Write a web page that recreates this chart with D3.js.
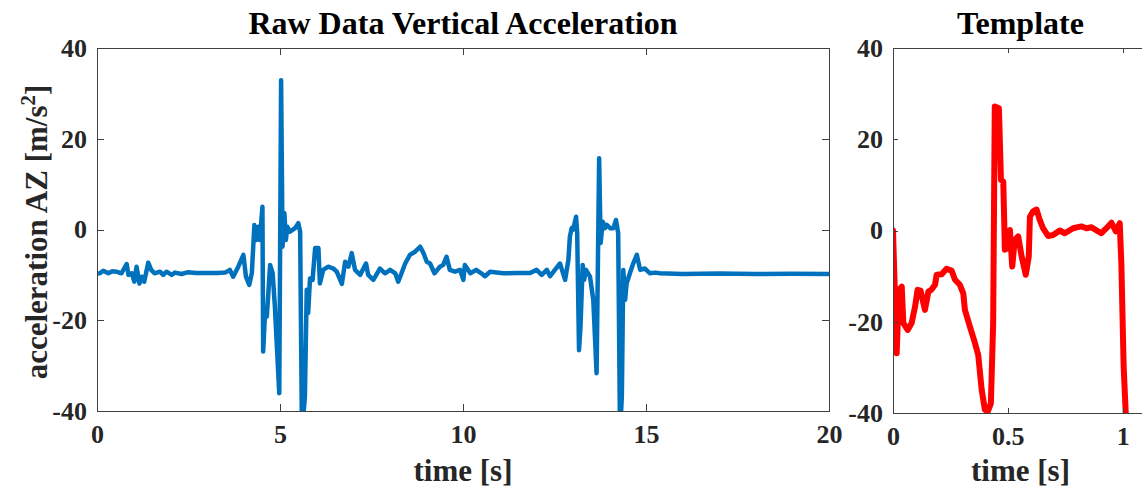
<!DOCTYPE html>
<html>
<head>
<meta charset="utf-8">
<script src="https://cdn.jsdelivr.net/npm/d3@7"></script>
<title>Raw Data Vertical Acceleration</title>
<style>
    body { margin: 0; background: #fff; }
    svg text { font-family: "Liberation Serif", "Times New Roman", serif; font-weight: bold; fill: #262626; }
    .axis path, .axis line { stroke: #404040; stroke-width: 1; shape-rendering: crispEdges; }
    .axis text { font-size: 26px; }
</style>
</head>
<body>
<div id="chart"></div>
<script>

// raw accelerometer trace (seconds, m/s^2)
var rawTime = [0.00, 0.08, 0.17, 0.31, 0.42, 0.53, 0.67, 0.81, 0.86, 0.95, 1.02, 1.08, 1.16, 1.22, 1.29, 1.40, 1.48, 1.57,
    1.72, 1.81, 1.90, 2.04, 2.13, 2.31, 2.49, 2.70, 3.00, 3.30, 3.50, 3.63, 3.72, 3.86, 4.00, 4.07, 4.16, 4.23, 4.30,
    4.36, 4.41, 4.45, 4.52, 4.54, 4.59, 4.64, 4.73, 4.80, 4.86, 4.98, 5.03, 5.07, 5.12, 5.16, 5.20, 5.27, 5.41, 5.50,
    5.55, 5.60, 5.68, 5.73, 5.77, 5.82, 5.89, 5.96, 6.05, 6.09, 6.18, 6.32, 6.46, 6.55, 6.69, 6.78, 6.87, 6.96, 7.05,
    7.19, 7.35, 7.41, 7.55, 7.73, 7.87, 8.01, 8.15, 8.23, 8.32, 8.42, 8.55, 8.69, 8.83, 8.92, 9.01, 9.10, 9.22, 9.37,
    9.46, 9.55, 9.64, 9.78, 9.92, 10.01, 10.05, 10.20, 10.36, 10.50, 10.60, 10.74, 11.10, 11.47, 11.83, 12.01, 12.15,
    12.29, 12.38, 12.51, 12.65, 12.79, 12.88, 12.92, 12.97, 13.01, 13.09, 13.12, 13.17, 13.21, 13.27, 13.31, 13.36,
    13.47, 13.56, 13.65, 13.72, 13.76, 13.82, 13.88, 13.93, 14.02, 14.11, 14.18, 14.24, 14.29, 14.34, 14.38, 14.43,
    14.47, 14.56, 14.65, 14.75, 14.84, 14.97, 15.11, 15.25, 15.38, 16.0, 17.0, 18.0, 19.0, 20.0];
var rawAccel = [-9.7, -9.65, -9.1, -9.65, -9.2, -9.3, -9.65, -7.6, -10.0, -9.65, -11.5, -8.2, -11.9, -10.4, -11.5, -7.3, -8.9, -9.65,
    -9.3, -10.0, -9.3, -10.0, -9.5, -9.8, -9.4, -9.6, -9.6, -9.6, -9.5, -8.9, -10.4, -8.2, -5.6, -10.4, -12.2, -9.65, 1.0,
    -2.3, 0.6, -2.3, 5.0, -26.9, -18.5, -19.2, -7.8, -9.65, -17, -36.1, 32.9, -3.8, 3.6, -2.3, 0.6, -0.5, 0.3, 1.4,
    -0.5, -45, -36.8, -13.3, -18.4, -10.8, -11.1, -4.1, -4.1, -11.9, -8.9, -8.2, -8.6, -9.3, -12.0, -7.1, -8.2, -5.2, -8.9,
    -10.0, -7.5, -10.0, -11.1, -8.6, -9.65, -8.9, -9.65, -11.5, -9.65, -7.5, -5.6, -4.9, -3.8, -5.2, -7.1, -7.5, -9.65, -8.2,
    -7.8, -6.0, -8.9, -9.3, -8.9, -11.1, -7.8, -9.65, -8.9, -9.65, -10.3, -9.3, -9.65, -9.6, -9.6, -8.9, -10.0,
    -8.9, -10.3, -8.9, -7.5, -11.1, -6.7, -1.6, 0.3, 0, 2.8, -0.8, -26.6, -21.4, -7.8, -11.1, -8.9,
    -10.4, -15.5, -31.7, 15.7, -3.0, 1.7, 0.3, 1.0, 0.3, 0.3, 2.1, -0.8, -45, -36.8, -8.9, -15.5,
    -11.9, -9.65, -7.5, -5.6, -8.9, -8.6, -9.65, -9.5, -9.65, -9.8, -9.7, -9.8, -9.75, -9.8];

// template signal (normalised time, m/s^2)
var tplTime = [0.000, 0.016, 0.026, 0.038, 0.045, 0.064, 0.081, 0.096, 0.107, 0.120, 0.139, 0.154, 0.167, 0.183, 0.190,
    0.212, 0.233, 0.255, 0.270, 0.291, 0.306, 0.313, 0.335, 0.357, 0.371, 0.386, 0.400, 0.414, 0.426, 0.436, 0.443,
    0.461, 0.470, 0.480, 0.487, 0.499, 0.509, 0.519, 0.530, 0.545, 0.560, 0.578, 0.591, 0.596, 0.610, 0.625, 0.639,
    0.653, 0.675, 0.697, 0.726, 0.748, 0.784, 0.820, 0.842, 0.864, 0.907, 0.929, 0.951, 0.970, 0.987, 0.994, 1.004,
    1.013, 1.020];
var tplAccel = [0, -26.9, -13, -12.3, -20.3, -21.8, -20.3, -16.7, -13, -13.2, -17.4, -13.4, -13, -11.9, -9.7,
    -9.6, -8.4, -8.8, -10.8, -11.9, -13.8, -17.4, -21.1, -24.7, -27.3, -34.9, -39.3, -39.5, -37.9, -20.3, 27.2,
    26.8, 11.1, 10.7, -4.2, -3.9, 0.1, -7.9, -2.1, -1.3, -5.7, -9.7, -5.7, 3.0, 4.2, 4.6, 2.3,
    0.5, -1.2, -1.0, 0, -0.6, 0.5, 0.9, 0.5, 0.7, -0.6, 0.5, 1.7, -0.2, 1.6, -7.2, -29.8,
    -40, -46];

var yTicks = [-40, -20, 0, 20, 40];
var rawXTicks = [0, 5, 10, 15, 20];
var tplXTicks = [0, 0.5, 1];

var width = 1142, height = 489;

var svg = d3.select("#chart").append("svg")
    .attr("width", width)
    .attr("height", height);

function drawPanel(opts) {
    var x = d3.scaleLinear().domain(opts.xDomain).range([opts.left, opts.right]);
    var y = d3.scaleLinear().domain([-40, 40]).range([opts.bottom, opts.top]);
    var g = svg.append("g");

    g.append("clipPath").attr("id", opts.id + "Clip")
        .append("rect")
        .attr("x", opts.left).attr("y", opts.top)
        .attr("width", opts.right - opts.left).attr("height", opts.bottom - opts.top);

    var pts = opts.xs.map(function (d, i) { return [d, opts.ys[i]]; });
    var line = d3.line().x(function (d) { return x(d[0]); }).y(function (d) { return y(d[1]); });

    g.append("path")
        .datum(pts)
        .attr("clip-path", "url(#" + opts.id + "Clip)")
        .attr("d", line)
        .attr("fill", "none")
        .attr("stroke", opts.color)
        .attr("stroke-width", opts.lineWidth)
        .attr("stroke-linejoin", "round")
        .attr("stroke-linecap", "round");

    var fmt = function (d) { return String(d); };
    var t = opts.tick;

    g.append("g").attr("class", "axis")
        .attr("transform", "translate(0," + opts.bottom + ")")
        .call(d3.axisBottom(x).tickValues(opts.xTicks).tickSizeInner(-t).tickSizeOuter(0).tickPadding(14).tickFormat(fmt));
    g.append("g").attr("class", "axis")
        .attr("transform", "translate(0," + opts.top + ")")
        .call(d3.axisTop(x).tickValues(opts.xTicks).tickSizeInner(-t).tickSizeOuter(0).tickFormat(""));
    g.append("g").attr("class", "axis")
        .attr("transform", "translate(" + opts.left + ",0)")
        .call(d3.axisLeft(y).tickValues(yTicks).tickSizeInner(-t).tickSizeOuter(0).tickPadding(10).tickFormat(fmt));
    g.append("g").attr("class", "axis")
        .attr("transform", "translate(" + opts.right + ",0)")
        .call(d3.axisRight(y).tickValues(yTicks).tickSizeInner(-t).tickSizeOuter(0).tickFormat(""));

    g.selectAll(".axis text").attr("fill", "#262626");

    g.append("text")
        .attr("x", (opts.left + opts.right) / 2)
        .attr("y", 34)
        .attr("text-anchor", "middle")
        .style("font-size", "32px")
        .style("fill", "#000")
        .text(opts.title);

    g.append("text")
        .attr("x", (opts.left + opts.right) / 2)
        .attr("y", 481)
        .attr("text-anchor", "middle")
        .style("font-size", "31px")
        .text("time [s]");
}

drawPanel({
    id: "raw", left: 97, right: 829, top: 48, bottom: 411,
    xDomain: [0, 20], xTicks: rawXTicks, xs: rawTime, ys: rawAccel,
    color: "#0072BD", lineWidth: 4.5, tick: 7,
    title: "Raw Data Vertical Acceleration"
});

drawPanel({
    id: "tpl", left: 893, right: 1148, top: 48, bottom: 413,
    xDomain: [0, 1.11], xTicks: tplXTicks, xs: tplTime, ys: tplAccel,
    color: "#FF0000", lineWidth: 6, tick: 5,
    title: "Template"
});

var yLabel = svg.append("text")
    .attr("transform", "translate(47,232) rotate(-90)")
    .attr("text-anchor", "middle")
    .style("font-size", "31px");
yLabel.append("tspan").text("acceleration AZ [m/s");
yLabel.append("tspan").attr("baseline-shift", "super").style("font-size", "21px").text("2");
yLabel.append("tspan").text("]");

</script>
</body>
</html>
